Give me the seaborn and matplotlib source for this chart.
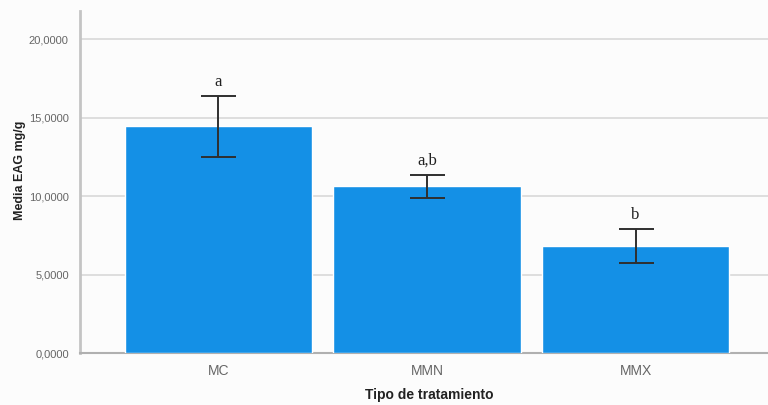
import matplotlib
matplotlib.use("Agg")
import matplotlib.pyplot as plt
from matplotlib.ticker import FuncFormatter, FixedLocator
import seaborn as sns
import pandas as pd

# Mean total phenolics (mg GAE/g) per treatment with interval bounds
tratamientos = ["MC", "MMN", "MMX"]
medias = [14.45, 10.62, 6.83]
ic_inferior = [12.50, 9.88, 5.77]
ic_superior = [16.41, 11.37, 7.94]
letras = ["a", "a,b", "b"]
y_ticks = [0, 5, 10, 15, 20]

df = pd.DataFrame({"tratamiento": tratamientos, "media": medias})

sns.set_style("white")
plt.rcParams["font.family"] = ["Liberation Sans", "DejaVu Sans"]
fig = plt.figure(figsize=(7.68, 4.05), dpi=100, facecolor="#fcfcfc")
ax = fig.add_axes([0.104, 0.128, 0.896, 0.845])
ax.set_facecolor("#fcfcfc")

sns.barplot(data=df, x="tratamiento", y="media", color="#1490e6",
            saturation=1, width=0.897, ax=ax, errorbar=None, zorder=3)

# error bars from the stored bounds
xs = range(len(tratamientos))
err_lo = [m - lo for m, lo in zip(medias, ic_inferior)]
err_hi = [hi - m for m, hi in zip(medias, ic_superior)]
ax.errorbar(list(xs), medias, yerr=[err_lo, err_hi], fmt="none",
            ecolor="#2f2f2f", elinewidth=1.4, capsize=12.6, capthick=1.4,
            zorder=4)

for x, hi, txt in zip(xs, ic_superior, letras):
    ax.annotate(txt, xy=(x, hi), xytext=(0, 4), textcoords="offset points",
                ha="center", va="bottom", fontsize=12,
                family=["Liberation Serif", "DejaVu Serif"], color="#222222")

ax.set_xlim(-0.664, 2.635)
ax.set_ylim(0, 21.8)
ax.yaxis.set_major_locator(FixedLocator(y_ticks))
ax.yaxis.set_major_formatter(FuncFormatter(lambda v, p: f"{v:.4f}".replace(".", ",")))
ax.grid(axis="y", color="#d9d9d9", linewidth=1.2, zorder=0)
ax.set_axisbelow(True)

for side in ["top", "right"]:
    ax.spines[side].set_visible(False)
ax.spines["left"].set_color("#c4c4c4")
ax.spines["left"].set_linewidth(2)
ax.spines["bottom"].set_color("#b0b0b0")
ax.spines["bottom"].set_linewidth(1.5)

ax.tick_params(axis="both", length=0)
ax.tick_params(axis="y", labelsize=8, labelcolor="#666666", pad=8)
ax.tick_params(axis="x", labelsize=10, labelcolor="#666666", pad=8)

ax.set_xlabel("Tipo de tratamiento", fontsize=10, fontweight="bold",
              color="#222222", va="center")
ax.set_ylabel("Media EAG mg/g", fontsize=9, fontweight="bold",
              color="#222222", va="center")
ax.xaxis.set_label_coords(0.5075, -0.123)
ax.yaxis.set_label_coords(-0.087, 0.535)

fig.savefig("out.png", dpi=100, facecolor=fig.get_facecolor())
